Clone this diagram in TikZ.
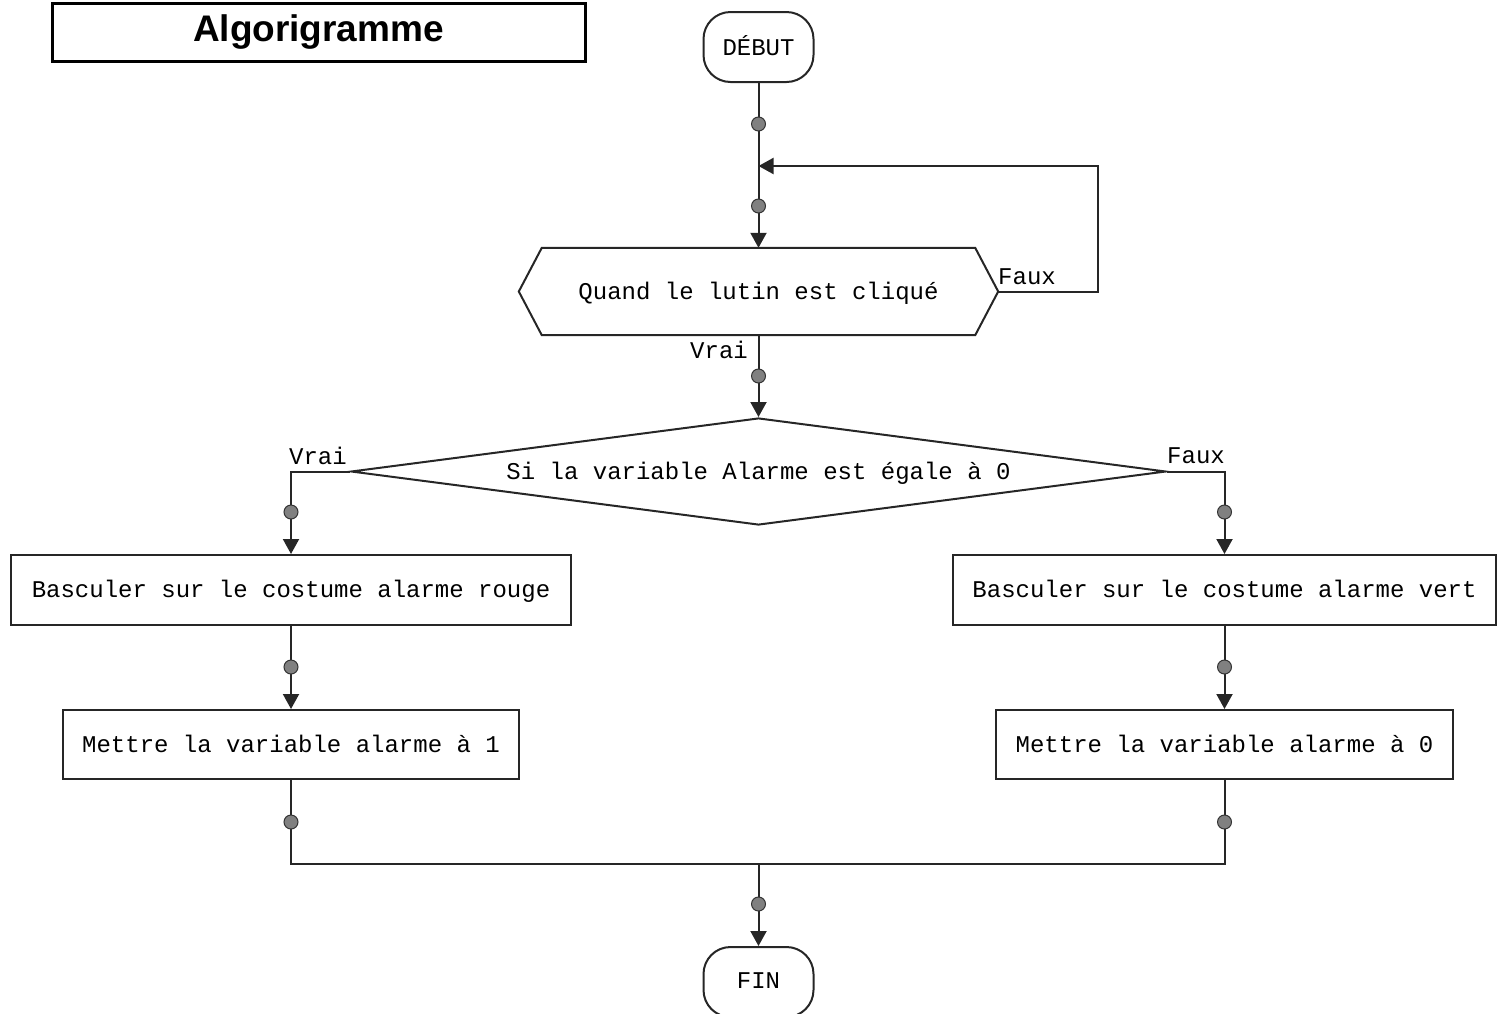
\documentclass[tikz,border=0pt]{standalone}
\usepackage{fontspec}
\setmainfont{Liberation Sans}
\newfontfamily\flowfont{Liberation Mono}
\usetikzlibrary{arrows.meta,shapes.geometric}

\begin{document}
\begin{tikzpicture}[x=1pt,y=-1pt,
  line/.style={draw=black!85, line width=2pt},
  flow/.style={line, -{Triangle[width=16pt,length=15pt]}},
  txt/.style={font=\flowfont\fontsize{24}{28}\selectfont},
  box/.style={txt, draw=black!85, line width=2pt, rectangle, inner sep=0pt, text depth=2pt},
  terminal/.style={box, rounded corners=27pt, minimum width=110pt, minimum height=70pt},
  joint/.style={circle, draw=black!80, fill=black!50, line width=1pt, minimum size=14pt, inner sep=0pt},
  lbl/.style={txt, inner sep=0pt},
]
\clip (0,0) rectangle (1504,1013);
\useasboundingbox (0,0) rectangle (1504,1013);

% title
\node[draw, line width=3pt, minimum width=533pt, minimum height=58pt, inner sep=0pt,
      font=\bfseries\fontsize{37}{40}\selectfont] (title) at (318.5,32) {Algorigramme};

% blocks
\node[terminal] (debut) at (758.5,47) {DÉBUT};
\node[txt, minimum width=479pt, minimum height=87pt, inner sep=0pt, text depth=2pt] (hex) at (758.5,291.5) {Quand le lutin est cliqué};
\draw[line] (hex.west) -- ([xshift=23pt]hex.north west) -- ([xshift=-23pt]hex.north east)
  -- (hex.east) -- ([xshift=-23pt]hex.south east) -- ([xshift=23pt]hex.south west) -- cycle;
\node[txt, diamond, draw=black!85, line width=2pt, aspect=7.6, inner sep=0pt, text depth=2pt,
      minimum width=815pt, minimum height=107pt] (cond) at (758.5,471.5) {Si la variable Alarme est égale à 0};
\node[box, minimum width=560pt, minimum height=70pt] (lb1) at (291,590) {Basculer sur le costume alarme rouge};
\node[box, minimum width=456pt, minimum height=69pt] (lb2) at (291,744.5) {Mettre la variable alarme à 1};
\node[box, minimum width=543pt, minimum height=70pt] (rb1) at (1224.5,590) {Basculer sur le costume alarme vert};
\node[box, minimum width=457pt, minimum height=69pt] (rb2) at (1224.5,744.5) {Mettre la variable alarme à 0};
\node[terminal] (fin) at (758.5,982) {FIN};

% connectors
\coordinate (merge) at (758.5,166);
\coordinate (loopR) at (1098,166);
\coordinate (join) at (758.5,864);
\draw[flow] (debut.south) -- (hex.north);
\draw[flow] (hex.east) -| (loopR) -- (merge);
\draw[flow] (hex.south) -- (cond.north);
\draw[flow] (cond.west) -| (lb1.north);
\draw[flow] (cond.east) -| (rb1.north);
\draw[flow] (lb1.south) -- (lb2.north);
\draw[flow] (rb1.south) -- (rb2.north);
\draw[line] (lb2.south) |- (join) -| (rb2.south);
\draw[flow] (join) -- (fin.north);

% junction dots
\node[joint] (j1) at (758.5,124) {};
\node[joint] (j2) at (758.5,206) {};
\node[joint] (j3) at (758.5,376) {};
\node[joint] (j4) at (291,512) {};
\node[joint] (j5) at (1224.5,512) {};
\node[joint] (j6) at (291,667) {};
\node[joint] (j7) at (1224.5,667) {};
\node[joint] (j8) at (291,822) {};
\node[joint] (j9) at (1224.5,822) {};
\node[joint] (j10) at (758.5,904) {};

% branch labels
\node[lbl] (lfaux1) at (1027,277) {Faux};
\node[lbl] (lvrai1) at (719,350) {Vrai};
\node[lbl] (lvrai2) at (318,456) {Vrai};
\node[lbl] (lfaux2) at (1196,456) {Faux};
\end{tikzpicture}
\end{document}
